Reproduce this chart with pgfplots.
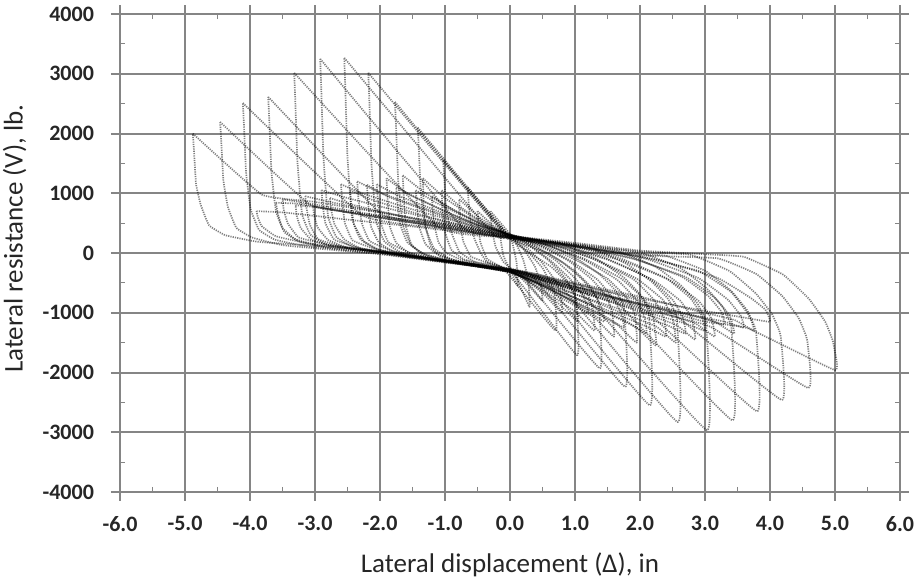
\documentclass[border=0pt]{standalone}
\usepackage{fontspec}
\setmainfont{Carlito}
\usepackage{pgfplots}
\pgfplotsset{compat=1.18}

\pgfplotsset{
  loop/.style={black, opacity=0.5, line width=0.85pt, dash pattern=on 0.6pt off 0.55pt, line join=round, smooth, tension=0.2, mark=none},
}

\begin{document}
\begin{tikzpicture}
\path[use as bounding box] (-60pt,-46pt) rectangle (401pt,246pt);
\begin{axis}[
  scale only axis,
  width=390pt, height=239pt,
  xmin=-6, xmax=6, ymin=-4000, ymax=4000,
  xtick={-6,-5,...,6},
  xticklabels={-6.0,-5.0,-4.0,-3.0,-2.0,-1.0,0.0,1.0,2.0,3.0,4.0,5.0,6.0},
  ytick={-4000,-3000,...,4000},
  yticklabels={-4000,-3000,-2000,-1000,0,1000,2000,3000,4000},
  minor x tick num=1, minor y tick num=1,
  tick align=outside,
  major tick length=4.5pt,
  minor tick length=-2.5pt,
  grid=major,
  grid style={black!48, line width=1pt},
  axis line style={black!48, line width=1pt},
  tick style={black!48, line width=1pt},
  minor tick style={black!48, line width=0.6pt},
  ticklabel style={font=\fontsize{11}{13}\selectfont\bfseries, text=black!85},
  xticklabel style={yshift=-4pt},
  yticklabel style={xshift=-5pt},
  xlabel={Lateral displacement (Δ), in},
  ylabel={Lateral resistance (V), lb.},
  label style={font=\fontsize{13.5}{16}\selectfont, text=black!85},
  xlabel style={at={(axis description cs:0.5,-0.153)}, anchor=center},
  ylabel style={at={(axis description cs:-0.135,0.53)}, anchor=center},
]

% primary cycles
\addplot[loop] coordinates {(-4.88,2000) (-3.82,978) (-3,855) (-2,680) (-1,500) (0,290) (1,170) (2,40) (3,-20) (3.6,-64) (4.2,-360) (4.6,-769) (4.85,-1150) (4.96,-1450) (4.99,-1600) (5.0,-1960) (3.66,-1260) (3,-1150) (2,-860) (1,-560) (0,-270) (-1,-125) (-2,30) (-3,120) (-3.88,188) (-4.38,298) (-4.63,463) (-4.76,813) (-4.83,1155) (-4.865,1770) (-4.88,2000)};
\addplot[loop] coordinates {(-4.46,2194) (-3.07,807) (-2,620) (-1,445) (0,270) (1,100) (2,-40) (3.19,-88) (3.79,-352) (4.19,-722) (4.44,-1086) (4.55,-1372) (4.58,-1522) (4.59,-2260) (3.08,-1232) (2,-930) (1,-620) (0,-300) (-1,-160) (-2,-20) (-3.46,126) (-3.96,256) (-4.21,421) (-4.34,771) (-4.41,1219) (-4.445,1928) (-4.46,2194)};
\addplot[loop] coordinates {(-4.11,2510) (-2.27,627) (-1,405) (0,260) (1,150) (2,20) (2.78,-31) (3.38,-303) (3.78,-675) (4.03,-1021) (4.14,-1294) (4.17,-1444) (4.18,-2460) (2.51,-1014) (2,-860) (1,-600) (0,-290) (-1,-140) (-2,10) (-3.11,111) (-3.61,221) (-3.86,386) (-3.99,736) (-4.06,1342) (-4.095,2191) (-4.11,2510)};
\addplot[loop] coordinates {(-3.72,2613) (-1.98,657) (-1,485) (0,280) (1,115) (2,-20) (2.4,-46) (3.0,-296) (3.4,-631) (3.65,-962) (3.76,-1222) (3.79,-1372) (3.8,-2650) (2.06,-947) (1,-620) (0,-300) (-1,-150) (-2,-10) (-2.72,72) (-3.22,182) (-3.47,347) (-3.6,697) (-3.67,1367) (-3.705,2273) (-3.72,2613)};
\addplot[loop] coordinates {(-3.32,3015) (-1.1,433) (0,260) (1,140) (2.02,-1) (2.62,-250) (3.02,-587) (3.27,-902) (3.38,-1150) (3.41,-1300) (3.42,-2800) (1.565,-740) (1,-570) (0,-280) (-1,-135) (-2,20) (-2.32,52) (-2.82,142) (-3.07,307) (-3.2,657) (-3.27,1526) (-3.305,2609) (-3.32,3015)};
\addplot[loop] coordinates {(-2.92,3250) (-0.73,428) (0,280) (1,125) (1.63,40) (2.23,-222) (2.63,-543) (2.88,-841) (2.99,-1076) (3.02,-1226) (3.03,-2965) (1.07,-640) (0,-300) (-1,-150) (-1.92,-12) (-2.42,102) (-2.67,267) (-2.8,617) (-2.87,1609) (-2.905,2803) (-2.92,3250)};
\addplot[loop] coordinates {(-2.55,3266) (-0.28,339) (0,280) (0.5,212) (1.18,111) (1.78,-174) (2.18,-480) (2.43,-766) (2.54,-990) (2.57,-1140) (2.58,-2830) (0.72,-486) (0,-280) (-1,-135) (-1.55,-65) (-2.05,65) (-2.3,230) (-2.43,580) (-2.5,1596) (-2.535,2811) (-2.55,3266)};
\addplot[loop] coordinates {(-2.18,3015) (-0.08,294) (0,280) (0.75,169) (1.35,-111) (1.75,-410) (2.0,-689) (2.11,-908) (2.14,-1058) (2.15,-2550) (0.535,-470) (0,-300) (-1.18,-119) (-1.68,14) (-1.93,190) (-2.06,540) (-2.13,1461) (-2.165,2591) (-2.18,3015)};
\addplot[loop] coordinates {(-1.77,2530) (-0.04,277) (0.37,220) (0.97,-56) (1.37,-349) (1.62,-622) (1.73,-836) (1.76,-986) (1.77,-2240) (0.35,-395) (0,-290) (-0.77,-178) (-1.27,-46) (-1.52,130) (-1.65,480) (-1.72,1210) (-1.755,2170) (-1.77,2530)};
\addplot[loop] coordinates {(-1.42,2100) (0,270) (0.58,1) (0.98,-285) (1.23,-552) (1.34,-762) (1.37,-912) (1.38,-1930) (0.154,-336) (0,-290) (-0.42,-229) (-0.92,-97) (-1.17,80) (-1.3,430) (-1.37,989) (-1.405,1797) (-1.42,2100)};
\addplot[loop] coordinates {(-1.03,1560) (-0.04,277) (0.23,52) (0.63,-228) (0.88,-490) (0.99,-696) (1.02,-846) (1.03,-1710) (0,-290) (-0.53,-153) (-0.78,23) (-0.91,373) (-0.98,715) (-1.015,1329) (-1.03,1560)};
\addplot[loop] coordinates {(-0.65,1100) (0,270) (0.25,50) (0.5,-250) (0.62,-500) (0.68,-633) (0.7,-1300) (-0.1,-260) (-0.35,-150) (-0.45,0) (-0.55,250) (-0.61,550) (-0.64,900) (-0.65,1100)};
\addplot[loop] coordinates {(-0.3,700) (0.05,250) (0.2,-100) (0.28,-450) (0.3,-900) (0.05,-300) (-0.1,-150) (-0.22,100) (-0.28,400) (-0.3,700)};
\addplot[loop] coordinates {(-0.15,450) (0.02,230) (0.1,-150) (0.12,-550) (0,-280) (-0.1,-50) (-0.14,200) (-0.15,450)};

% trailing cycles
\addplot[loop] coordinates {(-3.6,840) (-3.2,820) (-2.2,620) (-1.0,430) (0,260) (1.0,120) (2.0,-60) (2.9,-300) (3.4,-650) (3.65,-1000) (3.72,-1150) (3.75,-1300) (3.45,-1120) (2.8,-950) (2.0,-730) (1.0,-500) (0,-260) (-1,-120) (-2,20) (-2.9,120) (-3.3,230) (-3.5,420) (-3.57,650) (-3.6,840)};
\addplot[loop] coordinates {(-3.3,800) (-2.9,760) (-2.0,600) (-1.0,420) (0,250) (1.0,100) (1.9,-100) (2.7,-400) (3.15,-750) (3.38,-1050) (3.45,-1350) (3.15,-1150) (2.5,-950) (1.5,-650) (0.5,-400) (0,-270) (-1,-130) (-2,10) (-2.7,110) (-3.05,220) (-3.22,420) (-3.28,620) (-3.3,800)};
\addplot[loop] coordinates {(-3.03,770) (-2.6,700) (-1.8,560) (-0.9,400) (0,240) (0.9,90) (1.7,-120) (2.45,-450) (2.9,-800) (3.1,-1100) (3.15,-1400) (2.85,-1180) (2.2,-950) (1.3,-650) (0.4,-380) (0,-270) (-1,-130) (-1.9,0) (-2.5,90) (-2.8,220) (-2.96,430) (-3.01,620) (-3.03,770)};
\addplot[loop] coordinates {(-2.77,920) (-2.4,800) (-1.6,600) (-0.8,420) (0,260) (0.8,100) (1.5,-110) (2.2,-450) (2.62,-800) (2.8,-1100) (2.85,-1450) (2.55,-1200) (1.9,-950) (1.1,-650) (0.3,-360) (0,-280) (-0.9,-140) (-1.7,-20) (-2.3,80) (-2.55,230) (-2.7,480) (-2.75,720) (-2.77,920)};
\addplot[loop] coordinates {(-2.46,1050) (-2.1,880) (-1.4,650) (-0.7,450) (0,270) (0.7,110) (1.3,-100) (1.95,-430) (2.35,-780) (2.5,-1080) (2.55,-1500) (2.25,-1230) (1.6,-950) (0.9,-640) (0.2,-340) (0,-290) (-0.8,-160) (-1.5,-50) (-2.0,50) (-2.25,200) (-2.4,480) (-2.44,800) (-2.46,1050)};
\addplot[loop] coordinates {(-2.2,1140) (-1.85,930) (-1.2,680) (-0.6,460) (0,280) (0.6,120) (1.15,-100) (1.7,-420) (2.05,-760) (2.2,-1060) (2.25,-1550) (1.95,-1250) (1.35,-930) (0.7,-600) (0.1,-320) (-0.7,-170) (-1.3,-70) (-1.8,30) (-2.02,180) (-2.14,450) (-2.18,800) (-2.2,1140)};
\addplot[loop] coordinates {(-1.9,1250) (-1.55,980) (-1.0,700) (-0.5,470) (0,290) (0.5,130) (1.0,-110) (1.5,-430) (1.8,-760) (1.92,-1030) (1.95,-1500) (1.65,-1200) (1.1,-880) (0.5,-550) (0,-300) (-0.6,-190) (-1.2,-90) (-1.55,0) (-1.75,170) (-1.85,450) (-1.88,850) (-1.9,1250)};
\addplot[loop] coordinates {(-1.65,1300) (-1.3,1000) (-0.8,680) (-0.4,460) (0,300) (0.45,120) (0.9,-130) (1.25,-430) (1.48,-720) (1.57,-980) (1.6,-1400) (1.3,-1080) (0.8,-760) (0.3,-450) (0,-300) (-0.5,-200) (-1.0,-110) (-1.35,-20) (-1.52,150) (-1.6,450) (-1.63,850) (-1.65,1300)};
\addplot[loop] coordinates {(-1.34,1250) (-1.0,920) (-0.6,620) (-0.3,430) (0,300) (0.35,130) (0.7,-120) (1.0,-420) (1.2,-700) (1.27,-930) (1.3,-1300) (1.0,-980) (0.55,-650) (0.15,-380) (0,-300) (-0.4,-220) (-0.8,-140) (-1.08,-50) (-1.22,120) (-1.3,450) (-1.33,850) (-1.34,1250)};
\addplot[loop] coordinates {(-1.05,1050) (-0.75,760) (-0.4,500) (0,290) (0.3,120) (0.6,-130) (0.85,-420) (1.0,-700) (1.05,-1150) (0.75,-850) (0.35,-520) (0,-300) (-0.35,-200) (-0.7,-110) (-0.9,50) (-1.0,350) (-1.04,700) (-1.05,1050)};
\addplot[loop] coordinates {(-0.78,900) (-0.5,620) (-0.2,390) (0,280) (0.25,100) (0.5,-170) (0.7,-470) (0.78,-700) (0.8,-1000) (0.55,-720) (0.25,-450) (0,-300) (-0.3,-180) (-0.6,-60) (-0.72,200) (-0.77,550) (-0.78,900)};
\addplot[loop] coordinates {(-0.5,700) (-0.25,450) (0,280) (0.2,80) (0.38,-220) (0.47,-500) (0.5,-800) (0.3,-560) (0.1,-350) (-0.1,-250) (-0.35,-100) (-0.46,200) (-0.5,700)};

% second trailing cycles
\addplot[loop] coordinates {(-3.9,700) (-3.5,680) (-2.5,560) (-1.3,420) (0,250) (1.2,80) (2.3,-120) (3.2,-420) (3.7,-750) (3.93,-950) (4.0,-1150) (3.6,-1080) (2.9,-950) (2.0,-760) (1.0,-520) (0,-280) (-1.2,-100) (-2.3,60) (-3.1,160) (-3.6,280) (-3.82,450) (-3.88,600) (-3.9,700)};
\addplot[loop] coordinates {(-3.5,900) (-3.1,830) (-2.2,660) (-1.1,470) (0,280) (1.1,110) (2.1,-100) (2.9,-420) (3.35,-780) (3.55,-1050) (3.6,-1250) (3.3,-1150) (2.6,-990) (1.7,-760) (0.8,-510) (0,-300) (-1.1,-120) (-2.1,40) (-2.8,140) (-3.25,260) (-3.42,500) (-3.48,720) (-3.5,900)};
\addplot[loop] coordinates {(-3.15,950) (-2.75,850) (-1.9,660) (-0.9,460) (0,290) (1.0,120) (1.9,-90) (2.65,-400) (3.05,-720) (3.25,-980) (3.3,-1200) (3.0,-1100) (2.3,-930) (1.4,-700) (0.6,-480) (0,-310) (-1.0,-150) (-1.9,-10) (-2.55,100) (-2.95,230) (-3.08,480) (-3.13,750) (-3.15,950)};
\addplot[loop] coordinates {(-2.9,1050) (-2.5,920) (-1.7,700) (-0.8,480) (0,300) (0.9,130) (1.7,-90) (2.4,-420) (2.78,-760) (2.95,-1050) (3.0,-1300) (2.7,-1180) (2.0,-960) (1.2,-700) (0.5,-470) (0,-320) (-0.9,-160) (-1.7,-30) (-2.3,80) (-2.7,220) (-2.84,500) (-2.88,800) (-2.9,1050)};
\addplot[loop] coordinates {(-2.6,1150) (-2.25,990) (-1.5,730) (-0.7,490) (0,300) (0.8,130) (1.5,-100) (2.15,-430) (2.5,-780) (2.66,-1080) (2.7,-1350) (2.4,-1200) (1.8,-980) (1.0,-690) (0.4,-460) (0,-320) (-0.8,-170) (-1.5,-50) (-2.05,60) (-2.42,210) (-2.54,500) (-2.58,850) (-2.6,1150)};
\addplot[loop] coordinates {(-2.35,1200) (-2.0,1010) (-1.3,740) (-0.6,490) (0,310) (0.7,130) (1.3,-110) (1.9,-440) (2.22,-790) (2.37,-1100) (2.4,-1400) (2.1,-1230) (1.5,-960) (0.8,-660) (0.3,-440) (0,-320) (-0.7,-190) (-1.3,-80) (-1.8,30) (-2.16,200) (-2.28,500) (-2.33,880) (-2.35,1200)};
\addplot[loop] coordinates {(-2.05,1150) (-1.7,950) (-1.1,700) (-0.5,470) (0,310) (0.6,120) (1.15,-120) (1.65,-450) (1.95,-790) (2.07,-1080) (2.1,-1350) (1.8,-1150) (1.25,-880) (0.65,-590) (0.2,-400) (0,-320) (-0.6,-200) (-1.15,-100) (-1.55,10) (-1.87,180) (-1.98,480) (-2.03,850) (-2.05,1150)};
\addplot[loop] coordinates {(-1.75,1100) (-1.4,900) (-0.9,650) (-0.4,440) (0,310) (0.5,110) (0.95,-140) (1.35,-450) (1.6,-780) (1.72,-1030) (1.75,-1250) (1.45,-1050) (0.95,-780) (0.45,-520) (0,-320) (-0.5,-210) (-1.0,-110) (-1.35,0) (-1.58,180) (-1.69,480) (-1.73,820) (-1.75,1100)};
\addplot[loop] coordinates {(-1.45,1050) (-1.15,850) (-0.7,610) (-0.3,420) (0,310) (0.4,110) (0.8,-150) (1.12,-450) (1.33,-740) (1.42,-950) (1.45,-1150) (1.15,-930) (0.7,-650) (0.25,-420) (0,-320) (-0.45,-210) (-0.85,-120) (-1.12,-20) (-1.3,150) (-1.4,450) (-1.43,780) (-1.45,1050)};
\addplot[loop] coordinates {(-1.2,950) (-0.9,740) (-0.5,520) (-0.2,380) (0,300) (0.35,100) (0.65,-150) (0.92,-430) (1.1,-680) (1.18,-850) (1.2,-1000) (0.9,-780) (0.5,-540) (0.15,-380) (0,-320) (-0.4,-210) (-0.75,-110) (-0.98,0) (-1.1,180) (-1.16,450) (-1.19,720) (-1.2,950)};

\end{axis}
\end{tikzpicture}
\end{document}
